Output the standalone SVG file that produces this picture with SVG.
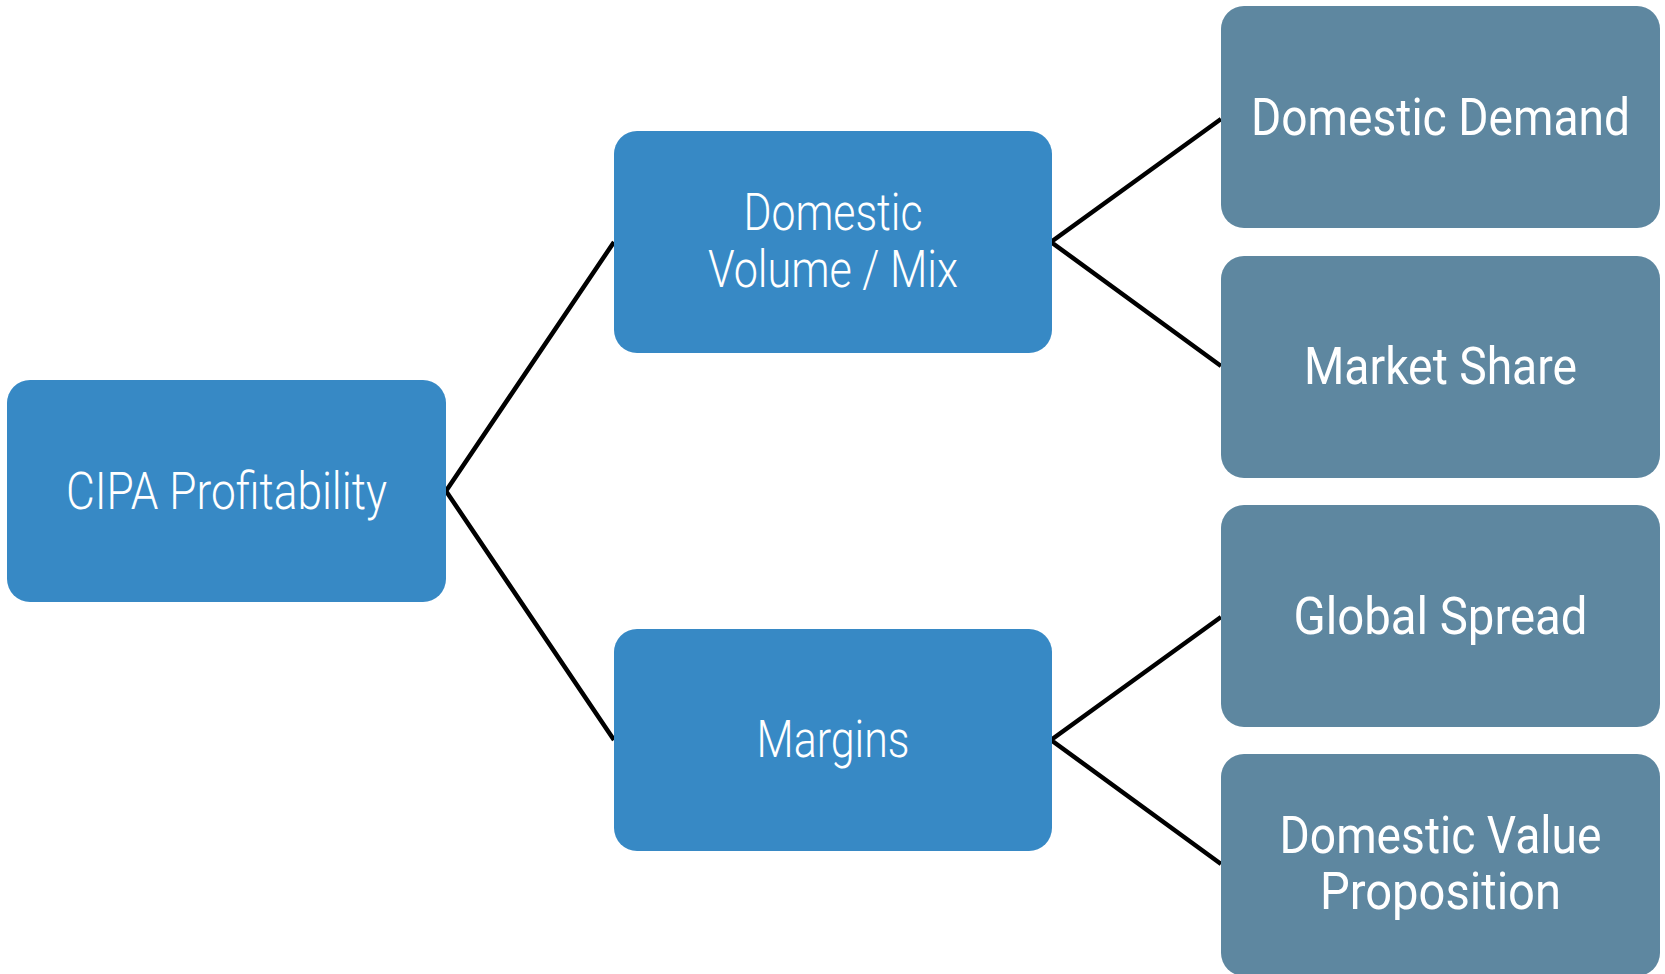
<svg xmlns="http://www.w3.org/2000/svg" width="1665" height="974" viewBox="0 0 1665 974">
<style>
.b1{fill:#3789C5}
.b2{fill:#5E87A0}
.t1{font-family:Roboto,"Liberation Sans",sans-serif;font-weight:300;font-size:52px;fill:#fff;text-anchor:middle}
.t2{font-family:Roboto,"Liberation Sans",sans-serif;font-weight:400;font-size:52px;fill:#fff;text-anchor:middle}
.c{stroke:#000;stroke-width:4.5;fill:none}
</style>
<rect width="1665" height="974" fill="#fff"/>
<g id="connectors">
<polyline class="c" points="614,242 446,491 614,740"/>
<polyline class="c" points="1221,119 1051,242 1221,366"/>
<polyline class="c" points="1221,617 1051,740 1221,864"/>
</g>
<g id="cipa">
<rect class="b1" x="7" y="380" width="439" height="222" rx="23"/>
<text class="t1" x="226.5" y="509" textLength="321" lengthAdjust="spacingAndGlyphs">CIPA Profitability</text>
</g>
<g id="volume">
<rect class="b1" x="614" y="131" width="438" height="222" rx="23"/>
<text class="t1" x="833" y="230" textLength="179" lengthAdjust="spacingAndGlyphs">Domestic</text>
<text class="t1" x="833" y="287" textLength="250" lengthAdjust="spacingAndGlyphs">Volume / Mix</text>
</g>
<g id="margins">
<rect class="b1" x="614" y="629" width="438" height="222" rx="23"/>
<text class="t1" x="833" y="757" textLength="153" lengthAdjust="spacingAndGlyphs">Margins</text>
</g>
<g id="demand">
<rect class="b2" x="1221" y="6" width="439" height="222" rx="23"/>
<text class="t2" x="1440.5" y="135" textLength="379" lengthAdjust="spacingAndGlyphs">Domestic Demand</text>
</g>
<g id="share">
<rect class="b2" x="1221" y="256" width="439" height="222" rx="23"/>
<text class="t2" x="1440.5" y="384" textLength="273" lengthAdjust="spacingAndGlyphs">Market Share</text>
</g>
<g id="spread">
<rect class="b2" x="1221" y="505" width="439" height="222" rx="23"/>
<text class="t2" x="1440.5" y="634" textLength="294" lengthAdjust="spacingAndGlyphs">Global Spread</text>
</g>
<g id="value">
<rect class="b2" x="1221" y="754" width="439" height="222" rx="23"/>
<text class="t2" x="1440.5" y="853" textLength="322" lengthAdjust="spacingAndGlyphs">Domestic Value</text>
<text class="t2" x="1440.5" y="909" textLength="241" lengthAdjust="spacingAndGlyphs">Proposition</text>
</g>
</svg>
